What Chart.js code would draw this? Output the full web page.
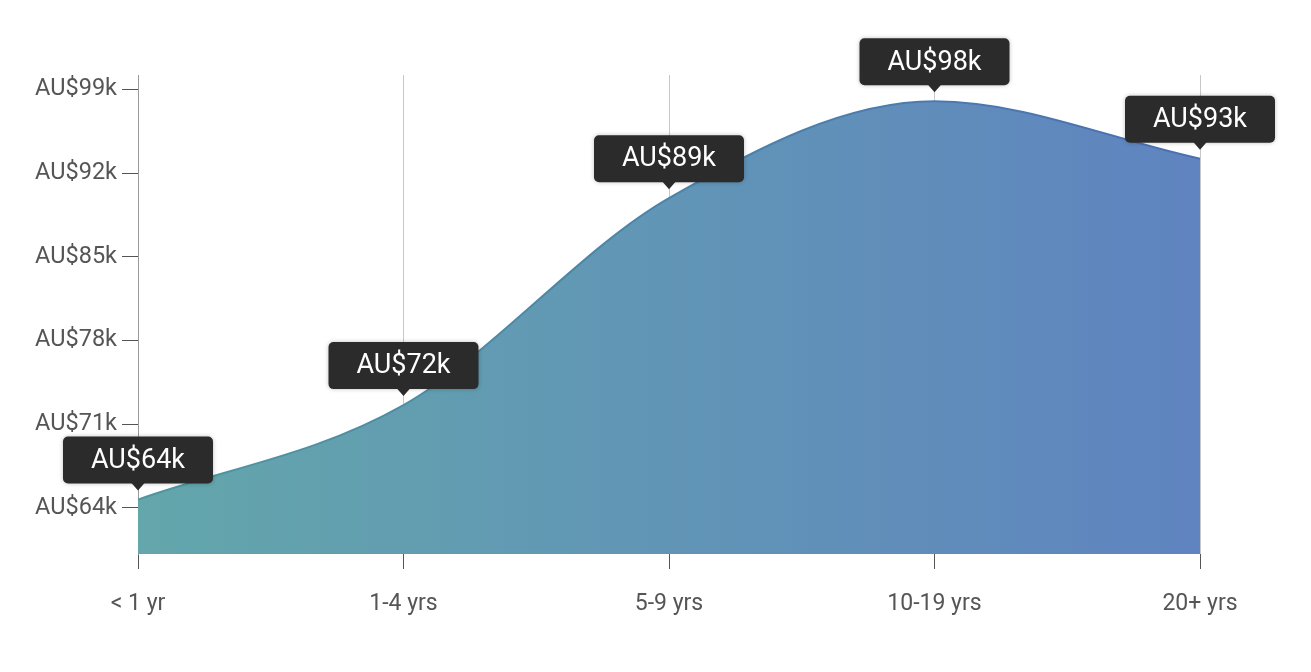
<!DOCTYPE html>
<html>
<head>
<meta charset="utf-8">
<script src="https://cdn.jsdelivr.net/npm/chart.js@4/dist/chart.umd.min.js"></script>
<style>
  html, body { margin: 0; padding: 0; background: #fff; }
  #wrap { width: 1311px; height: 672px; position: relative; }
</style>
</head>
<body>
<div id="wrap"><canvas id="salary-chart"></canvas></div>
<script>
// 경력별 급여
var categories = ["< 1 yr", "1-4 yrs", "5-9 yrs", "10-19 yrs", "20+ yrs"];
var salaries = [64.7, 72.6, 89.9, 98.0, 93.2];
var salaryLabels = ["AU$64k", "AU$72k", "AU$89k", "AU$98k", "AU$93k"];
var tickValues = [64, 71, 78, 85, 92, 99];
var yMin = 60.15;
var yMax = 100.2;

function areaGradient(chart, dark) {
    var area = chart.chartArea;
    if (!area) return "#6199b8";
    var g = chart.ctx.createLinearGradient(area.left, 0, area.right, 0);
    g.addColorStop(0, dark ? "rgb(80,150,158)" : "rgb(99,166,171)");
    g.addColorStop(1, dark ? "rgb(75,112,178)" : "rgb(95,132,192)");
    return g;
}

// 말풍선 라벨
var bubblePlugin = {
    id: "bubbles",
    afterDatasetsDraw: function(chart) {
        var ctx = chart.ctx;
        var meta = chart.getDatasetMeta(0);
        ctx.save();
        ctx.font = "27px Roboto";
        ctx.textAlign = "center";
        ctx.textBaseline = "middle";
        meta.data.forEach(function(pt, i) {
            var w = 150, h = 47, r = 5;
            var bottom = pt.y - 16;
            var left = pt.x - w / 2;
            var top = bottom - h;
            ctx.shadowColor = "rgba(0,0,0,0.25)";
            ctx.shadowBlur = 4;
            ctx.fillStyle = "#2b2b2b";
            ctx.beginPath();
            ctx.roundRect(left, top, w, h, r);
            ctx.fill();
            ctx.shadowBlur = 0;
            ctx.beginPath();
            ctx.moveTo(pt.x - 7, bottom - 1);
            ctx.lineTo(pt.x + 7, bottom - 1);
            ctx.lineTo(pt.x, bottom + 7);
            ctx.closePath();
            ctx.fill();
            ctx.fillStyle = "#ffffff";
            ctx.fillText(salaryLabels[i], pt.x, top + h / 2 + 1);
        });
        ctx.restore();
    }
};

var ctx = document.getElementById("salary-chart").getContext("2d");
var myChart = new Chart(ctx, {
    type: "line",
    data: {
        labels: categories,
        datasets: [{
            data: salaries,
            fill: "start",
            cubicInterpolationMode: "monotone",
            borderWidth: 2,
            pointRadius: 0,
            borderColor: function(c) { return areaGradient(c.chart, true); },
            backgroundColor: function(c) { return areaGradient(c.chart, false); }
        }, {
            // 아래쪽 테두리
            data: categories.map(function() { return yMin; }),
            fill: false,
            borderWidth: 2,
            pointRadius: 0,
            borderColor: function(c) { return areaGradient(c.chart, true); }
        }]
    },
    options: {
        responsive: true,
        maintainAspectRatio: false,
        animation: false,
        layout: {
            padding: { left: 0, right: 111, top: 75, bottom: 0 }
        },
        plugins: {
            legend: { display: false },
            tooltip: { enabled: false }
        },
        scales: {
            x: {
                offset: false,
                grid: {
                    color: "#c8c8c8",
                    tickColor: "#555555",
                    tickLength: 15,
                    lineWidth: 1
                },
                border: { display: false },
                ticks: {
                    color: "#555555",
                    font: { family: "Roboto", size: 23 },
                    padding: 21,
                    maxRotation: 0
                },
                afterFit: function(scale) { scale.height = 672 - 75 - 479; }
            },
            y: {
                min: yMin,
                max: yMax,
                afterBuildTicks: function(scale) {
                    scale.ticks = tickValues.map(function(v) { return { value: v }; });
                },
                grid: {
                    drawOnChartArea: false,
                    tickLength: 16,
                    tickColor: "#555555"
                },
                border: { display: true, color: "#9a9a9a", width: 1 },
                ticks: {
                    color: "#555555",
                    font: { family: "Roboto", size: 23.5 },
                    padding: 5,
                    callback: function(v) { return "AU$" + v + "k"; }
                },
                afterFit: function(scale) { scale.width = 138; }
            }
        }
    },
    plugins: [bubblePlugin]
});
</script>
</body>
</html>
